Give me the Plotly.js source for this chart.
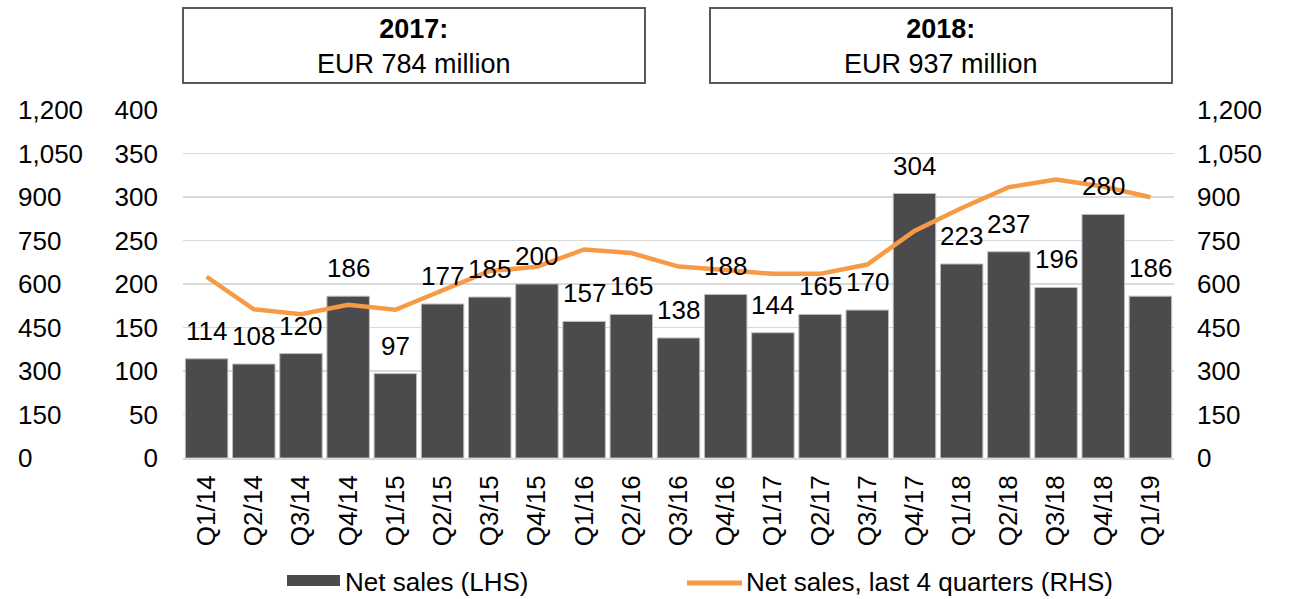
<!DOCTYPE html>
<html>
<head>
<meta charset="utf-8">
<script src="https://cdn.plot.ly/plotly-3.0.1.min.js"></script>
<style>
html,body{margin:0;padding:0;background:#fff;}
#chart{width:1289px;height:599px;}
</style>
</head>
<body>
<div id="chart"></div>
<script>
// ---- data ----
const quarters = ["Q1/14","Q2/14","Q3/14","Q4/14","Q1/15","Q2/15","Q3/15","Q4/15","Q1/16","Q2/16","Q3/16","Q4/16","Q1/17","Q2/17","Q3/17","Q4/17","Q1/18","Q2/18","Q3/18","Q4/18","Q1/19"];
const netSales = [114,108,120,186,97,177,185,200,157,165,138,188,144,165,170,304,223,237,196,280,186];
const netSalesLast4Q = [625,513,496,528,511,580,645,659,719,707,660,648,635,635,667,783,862,934,960,936,899];
const seriesNames = ["Net sales (LHS)", "Net sales, last 4 quarters (RHS)"];
const lhsTickVals = [0,50,100,150,200,250,300,350,400];
const lhsTickText = ["0","50","100","150","200","250","300","350","400"];
const rhsTickVals = [0,150,300,450,600,750,900,1050,1200];
const rhsTickText = ["0","150","300","450","600","750","900","1,050","1,200"];
const boxYears = ["2017:", "2018:"];
const boxAmounts = ["EUR 784 million", "EUR 937 million"];

// ---- styling ----
const FONT = "Liberation Sans, Arial, sans-serif";
const FS = 26;
const barColor = "#4B4B4D";
const lineColor = "#F79A46";
const gridColor = "#D9D9D9";

// plot area in pixels
const L = 183, R = 1174, T = 110, B = 458;
const W = R - L, H = B - T;
const px = x => (x - L) / W;
const py = y => (B - y) / H;

const traces = [
  {
    type: "bar",
    x: quarters,
    y: netSales,
    name: seriesNames[0],
    marker: {color: barColor, line: {color: "#BDBDBD", width: 1}},
    hoverinfo: "x+y",
    yaxis: "y",
    showlegend: false
  },
  {
    type: "scatter",
    mode: "lines",
    x: quarters,
    y: netSalesLast4Q,
    name: seriesNames[1],
    line: {color: lineColor, width: 4.5},
    yaxis: "y2",
    showlegend: false
  }
];

const annotations = [];
// bar value labels
quarters.forEach((q, i) => {
  annotations.push({
    x: q, y: netSales[i], xref: "x", yref: "y",
    text: String(netSales[i]),
    showarrow: false, yanchor: "bottom", xanchor: "center", yshift: 11,
    font: {family: FONT, size: FS, color: "#000"}
  });
});
// outer left column of RHS scale labels (left aligned)
rhsTickVals.forEach((v, i) => {
  annotations.push({
    x: px(16), y: v, xref: "paper", yref: "y2",
    text: rhsTickText[i], showarrow: false, xanchor: "left", yanchor: "middle",
    font: {family: FONT, size: FS, color: "#000"}
  });
});
// top boxes text
const boxCenters = [px((183 + 645) / 2), px((710 + 1172) / 2)];
boxYears.forEach((yr, i) => {
  annotations.push({
    x: boxCenters[i], y: py(47), xref: "paper", yref: "paper",
    text: "<b>" + yr + "</b><br>" + boxAmounts[i],
    showarrow: false, xanchor: "center", yanchor: "middle", align: "center",
    font: {family: FONT, size: 27, color: "#000"}
  });
});
// custom legend text
annotations.push({
  x: px(343), y: py(582), xref: "paper", yref: "paper",
  text: seriesNames[0], showarrow: false, xanchor: "left", yanchor: "middle",
  font: {family: FONT, size: FS, color: "#000"}
});
annotations.push({
  x: px(744), y: py(582), xref: "paper", yref: "paper",
  text: seriesNames[1], showarrow: false, xanchor: "left", yanchor: "middle",
  font: {family: FONT, size: FS, color: "#000"}
});

const shapes = [
  // top boxes
  {type: "rect", xref: "paper", yref: "paper", x0: px(183), x1: px(645), y0: py(83), y1: py(8),
   line: {color: "#595959", width: 2}, fillcolor: "rgba(0,0,0,0)"},
  {type: "rect", xref: "paper", yref: "paper", x0: px(710), x1: px(1172), y0: py(83), y1: py(8),
   line: {color: "#595959", width: 2}, fillcolor: "rgba(0,0,0,0)"},
  // legend swatches
  {type: "rect", xref: "paper", yref: "paper", x0: px(287), x1: px(340), y0: py(586), y1: py(575),
   line: {width: 0}, fillcolor: barColor},
  {type: "line", xref: "paper", yref: "paper", x0: px(687), x1: px(742), y0: py(583), y1: py(583),
   line: {color: lineColor, width: 5}}
];

const layout = {
  width: 1289, height: 599,
  margin: {l: L, r: 1289 - R, t: T, b: 599 - B, pad: 0},
  paper_bgcolor: "#fff", plot_bgcolor: "#fff",
  font: {family: FONT, size: FS, color: "#000"},
  bargap: 0.1,
  showlegend: false,
  xaxis: {
    type: "category",
    tickangle: -90,
    ticks: "", showline: true, linecolor: gridColor, linewidth: 2,
    tickfont: {family: FONT, size: FS, color: "#000"},
    ticklabelstandoff: 5,
    showgrid: false, fixedrange: true
  },
  yaxis: {
    range: [0, 400],
    tickvals: lhsTickVals, ticktext: lhsTickText,
    ticks: "", showgrid: true, gridcolor: gridColor, gridwidth: 1.5,
    zeroline: false, showline: false,
    tickfont: {family: FONT, size: FS, color: "#000"},
    ticklabelstandoff: 24, fixedrange: true
  },
  yaxis2: {
    range: [0, 1200],
    overlaying: "y", side: "right",
    tickvals: rhsTickVals, ticktext: rhsTickText,
    ticks: "", showgrid: false, zeroline: false, showline: false,
    tickfont: {family: FONT, size: FS, color: "#000"},
    ticklabelstandoff: 22, fixedrange: true
  },
  annotations: annotations,
  shapes: shapes
};

Plotly.newPlot("chart", traces, layout, {displayModeBar: false, staticPlot: true});
</script>
</body>
</html>
